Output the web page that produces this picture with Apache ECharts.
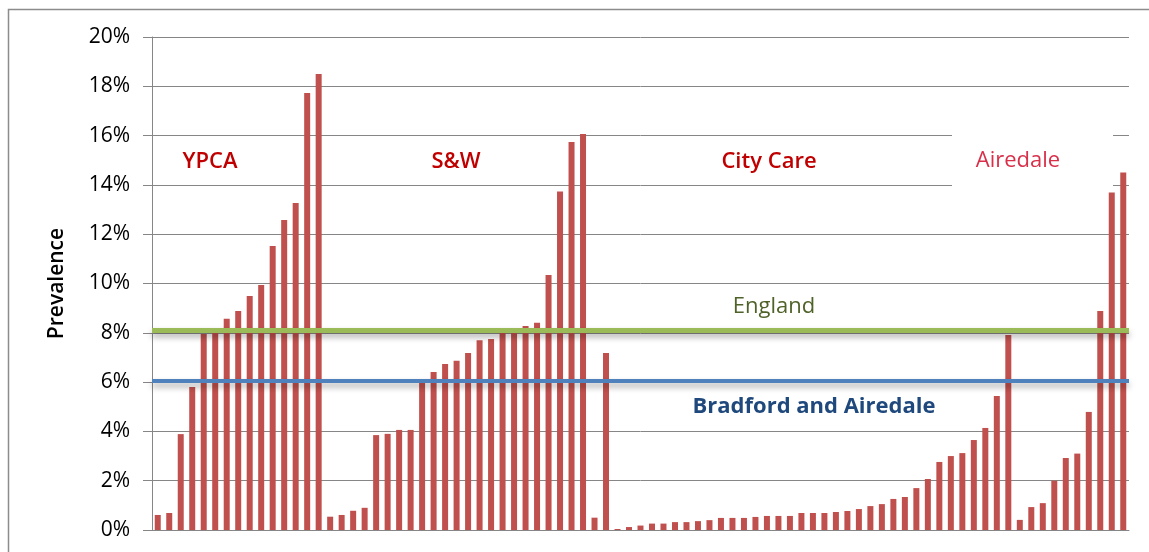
<!DOCTYPE html>
<html>
<head>
<meta charset="utf-8">
<script src="https://cdn.jsdelivr.net/npm/echarts@6/dist/echarts.min.js"></script>
<style>
html,body{margin:0;padding:0;background:#fff;}
#chart{width:1149px;height:552px;}
</style>
</head>
<body>
<div id="chart"></div>
<script>
// Prevalence (%) by practice, grouped by area
const ypca = [0.61, 0.69, 3.89, 5.8, 7.95, 8.0, 8.57, 8.88, 9.49, 9.94, 11.52, 12.58, 13.27, 17.73, 18.5];
const sw = [0.54, 0.61, 0.78, 0.9, 3.85, 3.9, 4.06, 4.06, 6.0, 6.41, 6.73, 6.87, 7.18, 7.7, 7.75, 8.03, 8.05, 8.28, 8.41, 10.34, 13.73, 15.74, 16.06, 0.5, 7.18];
const cityCare = [0.04, 0.12, 0.18, 0.26, 0.26, 0.32, 0.32, 0.36, 0.4, 0.49, 0.49, 0.49, 0.53, 0.57, 0.57, 0.57, 0.69, 0.69, 0.69, 0.73, 0.77, 0.85,
                  0.97, 1.05, 1.26, 1.34, 1.70, 2.07, 2.76, 3.0, 3.12, 3.65, 4.14, 5.44, 7.91];
const airedale = [0.41, 0.93, 1.09, 2.0, 2.92, 3.1, 4.79, 8.88, 13.69, 14.5];

const englandRate = 8.1;
const bradfordRate = 6.05;

const yTicks = [0, 2, 4, 6, 8, 10, 12, 14, 16, 18, 20];

const groups = [['YPCA', ypca], ['S&W', sw], ['City Care', cityCare], ['Airedale', airedale]];
const categories = [];
const values = [];
groups.forEach(([name, arr]) => arr.forEach((v, i) => { categories.push(name + ' ' + (i + 1)); values.push(v); }));

const chart = echarts.init(document.getElementById('chart'));
const FONT = '"Open Sans", "Noto Sans", sans-serif';

chart.setOption({
  animation: false,
  grid: { left: 152, right: 20, top: 37, bottom: 22, containLabel: false },
  xAxis: {
    type: 'category',
    data: categories,
    axisLine: { show: true, lineStyle: { color: '#868686', width: 1 } },
    axisTick: { show: false },
    axisLabel: { show: false },
    splitLine: { show: false }
  },
  yAxis: {
    type: 'value',
    min: yTicks[0],
    max: yTicks[yTicks.length - 1],
    interval: 2,
    name: 'Prevalence',
    nameLocation: 'middle',
    nameRotate: 90,
    nameGap: 84,
    nameTextStyle: { fontFamily: FONT, fontSize: 21, fontWeight: 600, color: '#000' },
    axisLine: { show: true, lineStyle: { color: '#868686', width: 1 } },
    axisTick: { show: true, inside: false, length: 9, lineStyle: { color: '#868686' } },
    axisLabel: { formatter: '{value}%', fontFamily: FONT, fontSize: 21, color: '#000', margin: 22 },
    splitLine: { show: true, lineStyle: { color: '#868686', width: 1 } }
  },
  series: [{
    type: 'bar',
    data: values,
    barWidth: 6,
    itemStyle: { color: '#c0504d' },
    markLine: {
      silent: true,
      symbol: 'none',
      label: { show: false },
      data: [
        { yAxis: englandRate, lineStyle: { color: '#9bbb59', width: 5, type: 'solid', shadowColor: 'rgba(0,0,0,0.35)', shadowBlur: 6, shadowOffsetY: 4 } },
        { yAxis: bradfordRate, lineStyle: { color: '#4f81bd', width: 4, type: 'solid', shadowColor: 'rgba(0,0,0,0.35)', shadowBlur: 6, shadowOffsetY: 4 } }
      ]
    }
  }],
  graphic: [
    { type: 'rect', z: -10, silent: true, shape: { x: 8.5, y: 9.5, width: 1200, height: 700 }, style: { fill: 'none', stroke: '#8c8c8c', lineWidth: 1.5 } },
    { type: 'rect', z: 1, silent: true, shape: { x: 952, y: 122, width: 161, height: 76 }, style: { fill: '#fff' } },
    { type: 'text', z: 5, x: 210, y: 162, style: { text: 'YPCA', font: '600 22px ' + FONT, fill: '#c00000', textAlign: 'center', textVerticalAlign: 'middle' } },
    { type: 'text', z: 5, x: 456, y: 162, style: { text: 'S&W', font: '600 22px ' + FONT, fill: '#c00000', textAlign: 'center', textVerticalAlign: 'middle' } },
    { type: 'text', z: 5, x: 769, y: 162, style: { text: 'City Care', font: '600 22px ' + FONT, fill: '#c00000', textAlign: 'center', textVerticalAlign: 'middle' } },
    { type: 'text', z: 5, x: 1018, y: 161, style: { text: 'Airedale', font: '22px ' + FONT, fill: '#d9304a', textAlign: 'center', textVerticalAlign: 'middle' } },
    { type: 'text', z: 5, x: 774, y: 307, style: { text: 'England', font: '22px ' + FONT, fill: '#4f6228', textAlign: 'center', textVerticalAlign: 'middle' } },
    { type: 'text', z: 5, x: 814, y: 407, style: { text: 'Bradford and Airedale', font: 'bold 22px ' + FONT, fill: '#1f497d', textAlign: 'center', textVerticalAlign: 'middle' } }
  ]
});
</script>
</body>
</html>
